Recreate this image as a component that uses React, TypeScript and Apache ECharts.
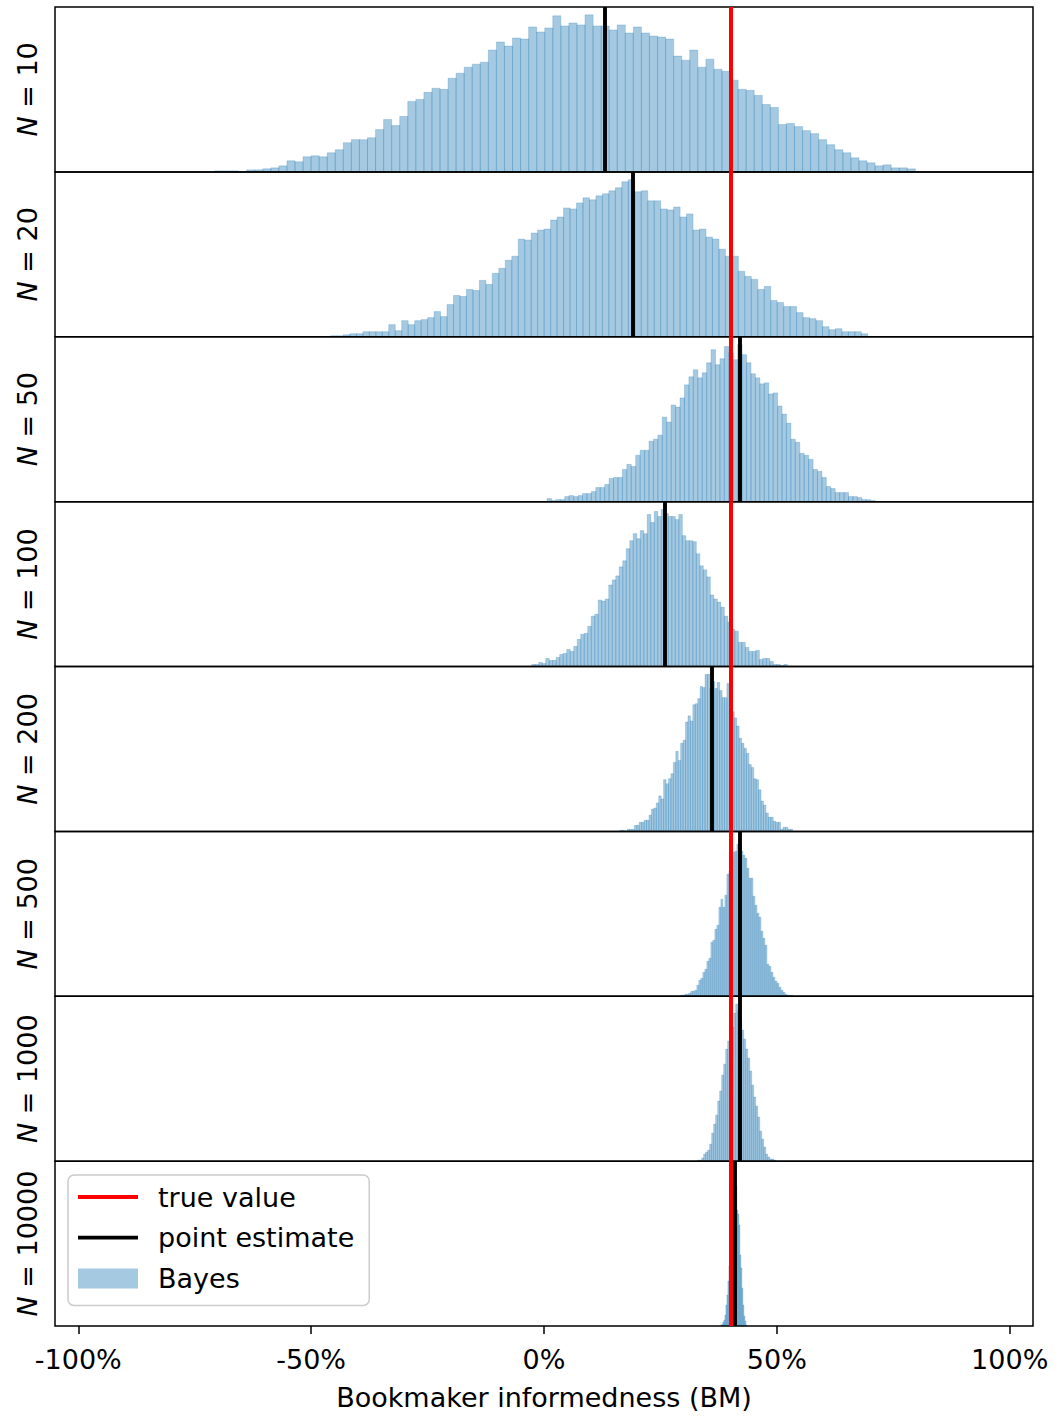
import React, { useEffect, useRef } from 'react';
import * as echarts from 'echarts';

// ---- data ----
const sampleSizes = ['10', '20', '50', '100', '200', '500', '1000', '10000'];
const trueValue = 0.4;
const pointEstimates = [0.126, 0.188, 0.417, 0.264, 0.364, 0.421, 0.416, 0.41];
const binStarts = [-0.7077, -0.4584, 0.0065, -0.0264, 0.1627, 0.2938, 0.3299, 0.3798];
const binWidths = [0.0173, 0.0139, 0.00952, 0.00752, 0.00523, 0.0043, 0.0043, 0.00215];

const counts10 = [1, 1, 1, 0, 2, 2, 3, 4, 6, 11, 10, 15, 16, 15, 19, 22, 29, 32, 32, 34, 42, 52, 46, 55, 70, 72, 79, 83, 82, 93, 98, 104, 107, 109, 121, 129, 125, 133, 132, 144, 139, 143, 155, 145, 148, 146, 156, 145, 145, 141, 146, 138, 144, 138, 135, 134, 132, 115, 111, 121, 104, 112, 102, 100, 91, 82, 81, 76, 67, 64, 47, 48, 45, 41, 38, 32, 27, 22, 19, 14, 11, 9, 6, 7, 4, 4, 3];
const counts20 = [1, 1, 2, 3, 3, 5, 5, 5, 5, 12, 6, 16, 12, 16, 17, 19, 25, 20, 32, 41, 40, 47, 46, 56, 52, 63, 68, 76, 80, 97, 96, 103, 106, 107, 116, 119, 128, 127, 133, 138, 136, 140, 142, 145, 148, 154, 156, 144, 145, 135, 135, 127, 126, 129, 119, 122, 106, 107, 99, 97, 87, 80, 80, 65, 60, 57, 47, 50, 36, 34, 30, 30, 24, 19, 18, 16, 10, 7, 8, 5, 5, 5, 3];
const counts50 = [3, 1, 2, 2, 5, 6, 5, 6, 8, 8, 10, 14, 14, 17, 23, 24, 24, 32, 37, 35, 46, 51, 51, 60, 62, 66, 84, 79, 96, 94, 103, 116, 124, 131, 123, 128, 138, 151, 136, 142, 154, 148, 141, 156, 146, 138, 127, 123, 117, 118, 107, 108, 95, 87, 78, 62, 59, 48, 46, 42, 32, 30, 24, 15, 13, 9, 9, 9, 5, 5, 4, 2, 2, 1];
const counts100 = [2, 2, 4, 3, 8, 6, 6, 9, 12, 13, 17, 15, 20, 27, 32, 33, 40, 50, 52, 66, 65, 67, 81, 86, 90, 99, 105, 117, 125, 132, 127, 135, 132, 151, 143, 154, 149, 156, 152, 149, 149, 146, 151, 130, 125, 125, 124, 112, 100, 96, 89, 71, 67, 64, 59, 50, 44, 37, 35, 24, 24, 19, 15, 15, 16, 7, 8, 8, 5, 2, 2, 1, 2];
const counts200 = [1, 1, 0, 2, 2, 2, 6, 6, 9, 9, 11, 11, 16, 22, 23, 28, 35, 32, 51, 47, 52, 57, 68, 79, 70, 87, 90, 108, 114, 109, 125, 126, 131, 143, 142, 155, 155, 141, 148, 141, 147, 139, 132, 132, 146, 128, 118, 112, 104, 92, 87, 82, 77, 66, 63, 52, 51, 41, 30, 26, 18, 14, 14, 10, 9, 9, 2, 4, 4, 2, 2];
const counts500 = [1, 1, 2, 2, 3, 5, 5, 6, 11, 16, 18, 24, 27, 35, 38, 54, 56, 67, 71, 89, 97, 89, 101, 122, 125, 135, 144, 145, 152, 157, 145, 141, 138, 128, 118, 118, 100, 91, 83, 79, 65, 58, 51, 32, 30, 24, 19, 15, 13, 9, 6, 4, 2, 1, 1, 1];
const counts1000 = [1, 1, 3, 7, 9, 11, 17, 28, 37, 46, 60, 70, 86, 97, 112, 120, 128, 134, 148, 157, 150, 142, 131, 122, 112, 103, 90, 76, 64, 55, 44, 30, 22, 14, 7, 4, 2, 2, 1];
const counts10000 = [1, 2, 4, 6, 11, 21, 31, 45, 60, 78, 95, 112, 128, 142, 157, 140, 116, 112, 101, 71, 58, 38, 21, 10, 5, 1];

const countsList = [counts10, counts20, counts50, counts100, counts200, counts500, counts1000, counts10000];

const tickValues = [-1, -0.5, 0, 0.5, 1];
const tickLabels = ['-100%', '-50%', '0%', '50%', '100%'];
const xLabel = 'Bookmaker informedness (BM)';
const legendNames = ['true value', 'point estimate', 'Bayes'];

// ---- styles ----
const FONT = 'DejaVu Sans';
const BAR_FILL = 'rgba(31,119,180,0.4)';
const BAR_EDGE = 'rgba(31,119,180,0.4)';
const RED = '#ff0000';
const BLACK = '#000000';
const LINE_ICON = 'path://M0,0 L0,0 M0,8.1 L60,8.1 L60,11.9 L0,11.9 Z M60,20 L60,20';

export default function App() {
  const ref = useRef<HTMLDivElement>(null);

  useEffect(() => {
    if (!ref.current) return;
    const chart = echarts.init(ref.current, null, { renderer: 'svg' });
    const n = sampleSizes.length;
    const top0 = 7;
    const panelH = 164.875;
    const last = n - 1;

    const grid = sampleSizes.map((_, i) => ({
      left: 55,
      right: 30,
      top: top0 + i * panelH,
      height: panelH,
      show: true,
      borderColor: '#000',
      borderWidth: 1.5,
      backgroundColor: 'transparent',
      z: 4,
    }));

    const xAxis = sampleSizes.map((_, i) => ({
      type: 'value',
      gridIndex: i,
      min: -1.05,
      max: 1.05,
      axisLine: { show: false },
      splitLine: { show: false },
      axisTick: {
        show: i === last,
        length: 8,
        lineStyle: { color: '#000', width: 1.5 },
        customValues: tickValues,
      },
      axisLabel: {
        show: i === last,
        customValues: tickValues,
        formatter: (v: number) => {
          const k = tickValues.findIndex((t) => Math.abs(t - v) < 1e-9);
          return k >= 0 ? tickLabels[k] : '';
        },
        fontSize: 27,
        color: '#000',
        fontFamily: FONT,
        margin: 20,
      },
      name: i === last ? xLabel : '',
      nameLocation: 'middle',
      nameGap: 58,
      nameTextStyle: { fontSize: 27, color: '#000', fontFamily: FONT },
    }));

    const yAxis = sampleSizes.map((s, i) => ({
      type: 'value',
      gridIndex: i,
      min: 0,
      max: Math.max(...countsList[i]) * 1.05,
      axisLine: { show: false },
      axisTick: { show: false },
      axisLabel: { show: false },
      splitLine: { show: false },
      name: `{i|N} = ${s}`,
      nameLocation: 'middle',
      nameRotate: 90,
      nameGap: 14,
      nameTextStyle: {
        fontSize: 27,
        color: '#000',
        fontFamily: FONT,
        rich: { i: { fontStyle: 'italic', fontSize: 27, color: '#000', fontFamily: FONT } },
      },
    }));

    const series: any[] = [];
    sampleSizes.forEach((_, i) => {
      const start = binStarts[i];
      const w = binWidths[i];
      series.push({
        type: 'custom',
        name: 'Bayes',
        xAxisIndex: i,
        yAxisIndex: i,
        itemStyle: { color: BAR_FILL },
        z: 2,
        encode: { x: [0, 1], y: 2 },
        data: countsList[i].map((c, k) => [start + k * w, start + (k + 1) * w, c]),
        renderItem: (params: any, api: any) => {
          const p0 = api.coord([api.value(0), 0]);
          const p1 = api.coord([api.value(1), api.value(2)]);
          return {
            type: 'rect',
            shape: { x: p0[0], y: p1[1], width: p1[0] - p0[0], height: p0[1] - p1[1] },
            style: { fill: BAR_FILL, stroke: BAR_EDGE, lineWidth: 0.6 },
          };
        },
      });
      series.push({
        type: 'line',
        name: 'true value',
        xAxisIndex: i,
        yAxisIndex: i,
        data: [],
        symbol: 'none',
        itemStyle: { color: RED },
        lineStyle: { color: RED, width: 4 },
        z: 6,
        markLine: {
          silent: true,
          symbol: ['none', 'none'],
          label: { show: false },
          lineStyle: { color: RED, width: 4, type: 'solid' },
          data: [{ xAxis: trueValue }],
        },
      });
      series.push({
        type: 'line',
        name: 'point estimate',
        xAxisIndex: i,
        yAxisIndex: i,
        data: [],
        symbol: 'none',
        itemStyle: { color: BLACK },
        lineStyle: { color: BLACK, width: 4 },
        z: 7,
        markLine: {
          silent: true,
          symbol: ['none', 'none'],
          label: { show: false },
          lineStyle: { color: BLACK, width: 3.9, type: 'solid' },
          data: [{ xAxis: pointEstimates[i] }],
        },
      });
    });

    chart.setOption({
      animation: false,
      backgroundColor: '#ffffff',
      grid,
      xAxis,
      yAxis,
      legend: {
        orient: 'vertical',
        left: 68,
        top: 1175,
        itemWidth: 60,
        itemHeight: 20,
        itemGap: 13.7,
        padding: [8.5, 15, 13.5, 10],
        selectedMode: false,
        borderColor: '#cccccc',
        borderWidth: 1.5,
        borderRadius: 6,
        backgroundColor: 'rgba(255,255,255,0.8)',
        z: 10,
        textStyle: { fontSize: 27, color: '#000', fontFamily: FONT, padding: [0, 0, 0, 15] },
        data: [
          { name: legendNames[0], icon: LINE_ICON, itemStyle: { color: RED, borderWidth: 0 } },
          { name: legendNames[1], icon: LINE_ICON, itemStyle: { color: BLACK, borderWidth: 0 } },
          { name: legendNames[2], icon: 'rect', itemStyle: { color: BAR_FILL, borderWidth: 0 } },
        ],
      },
      series,
    });

    return () => {
      chart.dispose();
    };
  }, []);

  return (
    <div
      ref={ref}
      style={{ position: 'fixed', left: 0, top: 0, width: 1063, height: 1416, background: '#fff' }}
    />
  );
}
